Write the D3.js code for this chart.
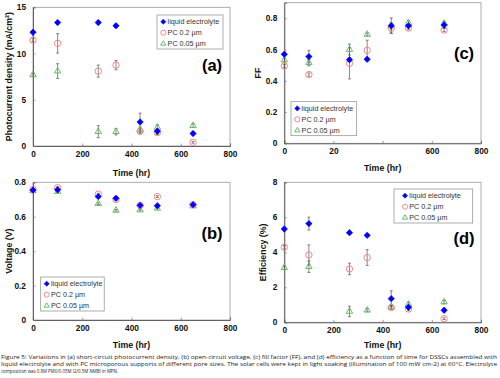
<!DOCTYPE html>
<html>
<head>
<meta charset="utf-8">
<script src="https://cdn.jsdelivr.net/npm/d3@7"></script>
<style>
  body { margin: 0; background: #fff; }
  svg { display: block; }
  text { font-family: "Liberation Sans", Arial, sans-serif; }
</style>
</head>
<body>
<svg width="500" height="378"></svg>
<script>
// time points (hr), shared by all four panels
var times = [0, 100, 265, 337, 435, 505, 650];
var seriesNames = ["liquid electrolyte", "PC 0.2 µm", "PC 0.05 µm"];
var xTicks = [0, 200, 400, 600, 800];
var xTickLabels = ["0", "200", "400", "600", "800"];
var xTickLabelsC = ["0", "20", "", "600", "800"];   // as printed in panel (c)

// (a) photocurrent density, mA/cm2
var jscLiquid = [12.3, 13.35, 13.35, 13.0, 2.6, 1.6, 1.35];
var jscLiquidErr = [0.15, 0.15, 0.15, 0.15, 0.95, 0.3, 0.15];
var jscPC02 = [11.45, 11.1, 8.1, 8.75, 1.6, 1.45, 0.4];
var jscPC02Err = [0.2, 1.05, 0.65, 0.5, 0.3, 0.2, 0.1];
var jscPC05 = [7.7, 8.1, 1.55, 1.55, 1.75, 2.0, 2.2];
var jscPC05Err = [0.2, 0.8, 0.65, 0.35, 0.3, 0.3, 0.2];

// (b) open-circuit voltage, V
var vocLiquid = [0.755, 0.757, 0.717, 0.707, 0.666, 0.664, 0.670];
var vocPC02 = [0.759, 0.769, 0.731, 0.700, 0.666, 0.717, 0.670];
var vocPC05 = [0.750, 0.746, 0.676, 0.637, 0.639, 0.649, 0.662];
var vocErr = [0.005, 0.005, 0.005, 0.005, 0.005, 0.005, 0.005];

// (c) fill factor
var ffLiquid = [0.570, 0.555, 0.535, 0.538, 0.753, 0.752, 0.757];
var ffLiquidErr = [0.01, 0.04, 0.01, 0.01, 0.05, 0.01, 0.02];
var ffPC02 = [0.495, 0.440, 0.512, 0.595, 0.736, 0.737, 0.725];
var ffPC02Err = [0.01, 0.01, 0.1, 0.065, 0.03, 0.01, 0.01];
var ffPC05 = [0.533, 0.516, 0.600, 0.697, 0.751, 0.772, 0.768];
var ffPC05Err = [0.01, 0.02, 0.035, 0.01, 0.02, 0.01, 0.01];

// (d) efficiency, %
var effLiquid = [5.33, 5.64, 5.12, 4.97, 1.35, 0.86, 0.69];
var effLiquidErr = [0.1, 0.37, 0.08, 0.08, 0.45, 0.12, 0.1];
var effPC02 = [4.29, 3.85, 3.05, 3.70, 0.84, 0.76, 0.21];
var effPC02Err = [0.1, 0.57, 0.33, 0.45, 0.1, 0.1, 0.05];
var effPC05 = [3.12, 3.18, 0.62, 0.69, 0.88, 1.03, 1.16];
var effPC05Err = [0.1, 0.33, 0.3, 0.08, 0.1, 0.1, 0.1];

var caption = [
  "Figure 5: Variations in (a) short-circuit photocurrent density, (b) open-circuit voltage, (c) fill factor (FF), and (d) efficiency as a function of time for DSSCs assembled with",
  "liquid electrolyte and with PC microporous supports of different pore sizes. The solar cells were kept in light soaking (illumination of 100 mW cm-2) at 60°C. Electrolyte",
  "composition was 0.8M PMII/0.05M I2/0.5M NMBI in MPN."
];

var colors = ["#0000ff", "#f47c7c", "#5cb85c"];
var fmt1 = function(d) { return d === 0 ? "0" : d3.format(".1f")(d); };

var panels = [
  { left: 33, right: 230, top: 7.3, bottom: 146, yMax: 15, yTicks: [0, 5, 10, 15], yFmt: d3.format("d"),
    yTitle: "Photocurrent density (mA/cm²)", yTitleX: 9, xTitleDy: 29.5, label: "(a)", labelX: 212, labelY: 71,
    legend: { x: 157, y: 15, w: 66, dx: 6.3 }, xLabels: xTickLabels,
    values: [jscLiquid, jscPC02, jscPC05], errors: [jscLiquidErr, jscPC02Err, jscPC05Err] },
  { left: 33, right: 230, top: 182.3, bottom: 320, yMax: 0.8, yTicks: [0, 0.2, 0.4, 0.6, 0.8], yFmt: fmt1,
    yTitle: "Voltage (V)", yTitleX: 9, xTitleDy: 27.5, label: "(b)", labelX: 212, labelY: 239,
    legend: { x: 40.7, y: 277, w: 63.5, dx: 6 }, xLabels: xTickLabels,
    values: [vocLiquid, vocPC02, vocPC05], errors: [vocErr, vocErr, vocErr] },
  { left: 284.3, right: 481, top: 2.7, bottom: 143.3, yMax: 0.9, yTicks: [0, 0.2, 0.4, 0.6, 0.8], yFmt: fmt1,
    yTitle: "FF", yTitleX: 258, xTitleDy: 28, label: "(c)", labelX: 464, labelY: 59,
    legend: { x: 291, y: 101.7, w: 65.7, dx: 6.3 }, xLabels: xTickLabelsC,
    values: [ffLiquid, ffPC02, ffPC05], errors: [ffLiquidErr, ffPC02Err, ffPC05Err] },
  { left: 284.3, right: 481, top: 182.3, bottom: 322.3, yMax: 8, yTicks: [0, 2, 4, 6, 8], yFmt: d3.format("d"),
    yTitle: "Efficiency (%)", yTitleX: 263, xTitleDy: 25.5, label: "(d)", labelX: 464, labelY: 244,
    legend: { x: 394, y: 189, w: 78.7, dx: 11 }, xLabels: xTickLabels,
    values: [effLiquid, effPC02, effPC05], errors: [effLiquidErr, effPC02Err, effPC05Err] }
];

var svg = d3.select("svg");

// marker drawing for the three series
function marker(g, k, s) {
  if (k === 0) {
    g.append("path").attr("d", d3.symbol(d3.symbolDiamond2, 26 * s * s)())
      .attr("fill", colors[0]).attr("stroke", colors[0]).attr("stroke-width", 0.6);
  } else if (k === 1) {
    g.append("circle").attr("r", 3.2 * s).attr("fill", "none")
      .attr("stroke", colors[1]).attr("stroke-width", 0.9);
  } else {
    g.append("path").attr("d", d3.symbol(d3.symbolTriangle, 18 * s * s)())
      .attr("fill", "none").attr("stroke", colors[2]).attr("stroke-width", 0.9);
  }
}

panels.forEach(function(p) {
  var x = d3.scaleLinear().domain([0, 800]).range([p.left, p.right]);
  var y = d3.scaleLinear().domain([0, p.yMax]).range([p.bottom, p.top]);
  var g = svg.append("g");

  // plot frame
  g.append("rect")
    .attr("x", p.left).attr("y", p.top)
    .attr("width", p.right - p.left).attr("height", p.bottom - p.top)
    .attr("fill", "none").attr("stroke", "#9a9a9a").attr("stroke-width", 0.8);

  var xa = g.append("g").attr("transform", "translate(0," + p.bottom + ")")
    .call(d3.axisBottom(x).tickValues(xTicks).tickSize(-2.5).tickPadding(6)
      .tickFormat(function(d, i) { return p.xLabels[i]; }));
  var ya = g.append("g").attr("transform", "translate(" + p.left + ",0)")
    .call(d3.axisLeft(y).tickValues(p.yTicks).tickSize(-2.5).tickPadding(7).tickFormat(p.yFmt));
  [xa, ya].forEach(function(a) {
    a.select(".domain").attr("stroke", "#555").attr("stroke-width", 0.9);
    a.selectAll(".tick line").attr("stroke", "#777").attr("stroke-width", 0.7);
    a.selectAll(".tick text").attr("fill", "#111").style("font-size", "8.3px").style("font-weight", "bold");
  });
  xa.selectAll(".tick text").attr("dy", "0.55em");

  // axis titles
  g.append("text").attr("x", (p.left + p.right) / 2).attr("y", p.bottom + p.xTitleDy)
    .attr("text-anchor", "middle").style("font-size", "8.8px").style("font-weight", "bold")
    .attr("fill", "#111").text("Time (hr)");
  g.append("text")
    .attr("transform", "translate(" + (p.yTitleX + 3) + "," + ((p.top + p.bottom) / 2) + ") rotate(-90)")
    .attr("text-anchor", "middle").style("font-size", "8.8px").style("font-weight", "bold")
    .attr("fill", "#111").text(p.yTitle);

  // panel label
  g.append("text").attr("x", p.labelX).attr("y", p.labelY).attr("text-anchor", "middle")
    .style("font-size", "16.5px").style("font-weight", "bold").attr("fill", "#000").text(p.label);

  // error bars
  [2, 1, 0].forEach(function(k) {
    var vals = p.values[k], errs = p.errors[k];
    var eb = g.append("g").attr("stroke", "#555").attr("stroke-width", 0.7);
    times.forEach(function(t, i) {
      var cx = x(t), y1 = y(vals[i] - errs[i]), y2 = y(vals[i] + errs[i]);
      eb.append("line").attr("x1", cx).attr("x2", cx).attr("y1", y1).attr("y2", y2);
      eb.append("line").attr("x1", cx - 1.5).attr("x2", cx + 1.5).attr("y1", y1).attr("y2", y1);
      eb.append("line").attr("x1", cx - 1.5).attr("x2", cx + 1.5).attr("y1", y2).attr("y2", y2);
    });
  });

  // markers, liquid electrolyte drawn last
  [2, 1, 0].forEach(function(k) {
    times.forEach(function(t, i) {
      var m = g.append("g").attr("transform", "translate(" + x(t) + "," + y(p.values[k][i]) + ")");
      marker(m, k, 1);
    });
  });

  // legend
  var lg = g.append("g").attr("transform", "translate(" + p.legend.x + "," + p.legend.y + ")");
  lg.append("rect").attr("width", p.legend.w).attr("height", 34)
    .attr("fill", "#fff").attr("stroke", "#8a8a8a").attr("stroke-width", 0.7);
  seriesNames.forEach(function(name, k) {
    var ry = 6.7 + k * 11;
    marker(lg.append("g").attr("transform", "translate(" + p.legend.dx + "," + ry + ")"), k, 0.8);
    lg.append("text").attr("x", p.legend.dx + 4.3).attr("y", ry + 2.5)
      .style("font-size", "7.2px").attr("fill", "#333").text(name);
  });
});

// figure caption
var capW = [496, 496, 117];
caption.forEach(function(line, i) {
  svg.append("text").attr("x", 1).attr("y", 358.5 + i * 7)
    .attr("textLength", capW[i]).attr("lengthAdjust", "spacingAndGlyphs")
    .style("font-family", "'Open Sans', sans-serif").style("font-size", "5.7px")
    .attr("fill", "#222").text(line);
});
</script>
</body>
</html>
